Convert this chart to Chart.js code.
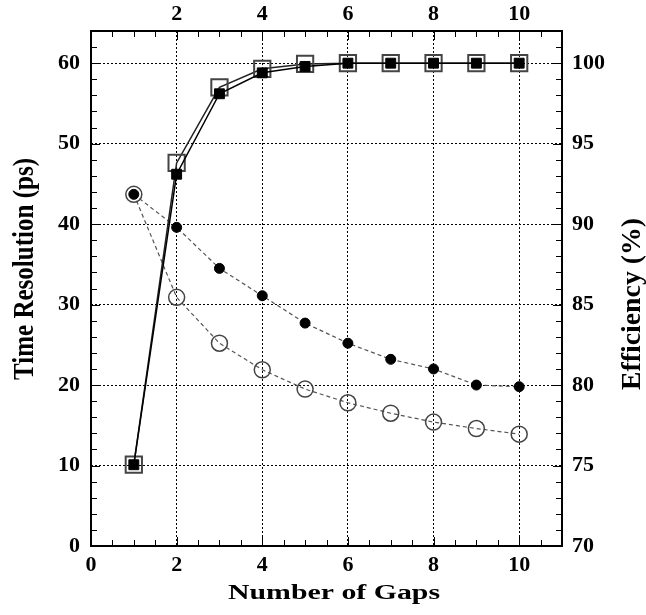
<!DOCTYPE html>
<html>
<head>
<meta charset="utf-8">
<script src="https://cdn.jsdelivr.net/npm/chart.js@4.4.1/dist/chart.umd.min.js"></script>
<style>
  html, body { margin: 0; padding: 0; background: #fff; }
  #wrap { width: 646px; height: 615px; }
</style>
</head>
<body>
<div id="wrap"><canvas id="gapChart" width="646" height="615"></canvas></div>
<script>
// values
const gaps = [1, 2, 3, 4, 5, 6, 7, 8, 9, 10];
const effOpen = [75.05, 93.8, 98.5, 99.65, 99.95, 100, 100, 100, 100, 100];   // %  (open squares)
const effFilled = [75.05, 93.1, 98.1, 99.4, 99.8, 100, 100, 100, 100, 100];  // %  (filled squares)
const resOpen = [43.7, 30.9, 25.2, 21.9, 19.5, 17.8, 16.5, 15.4, 14.6, 13.9]; // ps (open circles)
const resFilled = [43.7, 39.6, 34.5, 31.1, 27.7, 25.2, 23.2, 22.0, 20.0, 19.8]; // ps (filled circles)

const xTicks = [0, 2, 4, 6, 8, 10];
const yTicks = [0, 10, 20, 30, 40, 50, 60];
const y1Ticks = [70, 75, 80, 85, 90, 95, 100];

const tickFont = { family: "'Liberation Serif', serif", size: 22, weight: "bold" };

function pts(values) {
    return gaps.map((g, i) => ({ x: g, y: values[i] }));
}

// draws stretched bold title text (the figure's titles are wider than the tick numbers)
function drawTitle(ctx, text, x, y, angle, length, capHeight) {
    const size = capHeight / 0.66;
    ctx.save();
    ctx.font = "bold " + size + "px 'Liberation Serif', serif";
    const w = ctx.measureText(text).width;
    ctx.translate(x, y);
    ctx.rotate(angle);
    ctx.scale(length / w, 1);
    ctx.textAlign = "center";
    ctx.textBaseline = "alphabetic";
    ctx.fillStyle = "#000";
    ctx.fillText(text, 0, 0);
    ctx.restore();
}

/* inward tick marks, frame and axis titles */
const frameAndTicks = {
    id: "frameAndTicks",
    afterDraw(chart) {
        const ctx = chart.ctx;
        const a = chart.chartArea;
        const sx = chart.scales.x, sy = chart.scales.y, sy1 = chart.scales.y1;
        ctx.save();
        ctx.strokeStyle = "#000";
        ctx.lineWidth = 1;
        ctx.beginPath();
        for (let v = 0.5; v < sx.max; v += 0.5) {
            const px = Math.round(sx.getPixelForValue(v)) + 0.5;
            const len = v % 2 === 0 ? 9 : 6;
            ctx.moveTo(px, a.bottom); ctx.lineTo(px, a.bottom - len);
            ctx.moveTo(px, a.top); ctx.lineTo(px, a.top + len);
        }
        for (let v = 2; v < sy.max; v += 2) {
            const py = Math.round(sy.getPixelForValue(v)) + 0.5;
            const len = v % 10 === 0 ? 9 : 6;
            ctx.moveTo(a.left, py); ctx.lineTo(a.left + len, py);
        }
        for (let v = 71; v < sy1.max; v += 1) {
            const py = Math.round(sy1.getPixelForValue(v)) + 0.5;
            const len = v % 5 === 0 ? 9 : 6;
            ctx.moveTo(a.right, py); ctx.lineTo(a.right - len, py);
        }
        ctx.stroke();
        ctx.lineWidth = 2;
        ctx.strokeRect(a.left, a.top, a.right - a.left, a.bottom - a.top);
        ctx.restore();

        drawTitle(ctx, "Number of Gaps", 334, 599, 0, 212, 14.5);
        drawTitle(ctx, "Time Resolution (ps)", 33, 269, -Math.PI / 2, 222, 20);
        drawTitle(ctx, "Efficiency (%)", 640, 304, -Math.PI / 2, 172, 18.3);
    }
};

const gridColor = (c) => (c.tick && (c.tick.value === 0) ? "rgba(0,0,0,0)" : "#000");

const ctx = document.getElementById("gapChart").getContext("2d");
const gapChart = new Chart(ctx, {
    type: "line",
    data: {
        datasets: [
            {
                label: "Efficiency (filled)",
                yAxisID: "y1",
                data: pts(effFilled),
                borderColor: "#000",
                borderWidth: 1.5,
                pointStyle: "rect",
                pointRadius: 7,
                pointBackgroundColor: "#000",
                pointBorderColor: "#000",
                pointBorderWidth: 1,
                tension: 0,
                fill: false
            },
            {
                label: "Efficiency (open)",
                yAxisID: "y1",
                data: pts(effOpen),
                borderColor: "#222",
                borderWidth: 1.5,
                pointStyle: "rect",
                pointRadius: 11.5,
                pointBackgroundColor: "rgba(0,0,0,0)",
                pointBorderColor: "#444",
                pointBorderWidth: 2,
                tension: 0,
                fill: false
            },
            {
                label: "Resolution (filled)",
                yAxisID: "y",
                data: pts(resFilled),
                borderColor: "#555",
                borderWidth: 1.2,
                borderDash: [4, 3],
                pointStyle: "circle",
                pointRadius: 5,
                pointBackgroundColor: "#000",
                pointBorderColor: "#000",
                pointBorderWidth: 1,
                tension: 0,
                fill: false
            },
            {
                label: "Resolution (open)",
                yAxisID: "y",
                data: pts(resOpen),
                borderColor: "#555",
                borderWidth: 1.2,
                borderDash: [4, 3],
                pointStyle: "circle",
                pointRadius: 8,
                pointBackgroundColor: "rgba(0,0,0,0)",
                pointBorderColor: "#444",
                pointBorderWidth: 1.5,
                tension: 0,
                fill: false
            }
        ]
    },
    options: {
        responsive: false,
        animation: false,
        devicePixelRatio: 1,
        layout: { padding: 0 },
        plugins: {
            legend: { display: false },
            tooltip: { enabled: false }
        },
        scales: {
            x: {
                type: "linear",
                position: "bottom",
                min: 0,
                max: 11,
                afterBuildTicks: (s) => { s.ticks = xTicks.map(v => ({ value: v })); },
                ticks: { color: "#000", font: tickFont, padding: 6, autoSkip: false, maxRotation: 0 },
                grid: { color: gridColor, lineWidth: 1, drawTicks: false },
                border: { display: false, dash: [2, 2] },
                afterFit: (s) => { s.height = 69; }
            },
            x2: {
                type: "linear",
                position: "top",
                min: 0,
                max: 11,
                afterBuildTicks: (s) => { s.ticks = xTicks.map(v => ({ value: v })); },
                ticks: {
                    color: "#000", font: tickFont, padding: -5, autoSkip: false, maxRotation: 0,
                    callback: (v) => (v === 0 ? "" : v)
                },
                grid: { display: false },
                border: { display: false },
                afterFit: (s) => { s.height = 31; }
            },
            y: {
                type: "linear",
                position: "left",
                min: 0,
                max: 64,
                afterBuildTicks: (s) => { s.ticks = yTicks.map(v => ({ value: v })); },
                ticks: { color: "#000", font: tickFont, padding: 11, autoSkip: false },
                grid: { color: gridColor, lineWidth: 1, drawTicks: false },
                border: { display: false, dash: [2, 2] },
                afterFit: (s) => { s.width = 91; }
            },
            y1: {
                type: "linear",
                position: "right",
                min: 70,
                max: 102,
                afterBuildTicks: (s) => { s.ticks = y1Ticks.map(v => ({ value: v })); },
                ticks: { color: "#000", font: tickFont, padding: 2, autoSkip: false },
                grid: { display: false },
                border: { display: false },
                afterFit: (s) => { s.width = 84; }
            }
        }
    },
    plugins: [frameAndTicks]
});
</script>
</body>
</html>
